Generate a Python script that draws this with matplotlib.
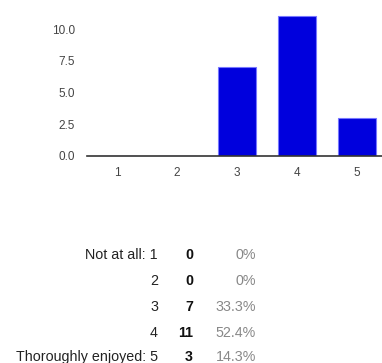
import matplotlib
matplotlib.use("Agg")
import matplotlib.pyplot as plt

categories = [1, 2, 3, 4, 5]
counts = [0, 0, 7, 11, 3]
percents = ["0%", "0%", "33.3%", "52.4%", "14.3%"]
row_labels = ["Not at all: 1", "2", "3", "4", "Thoroughly enjoyed: 5"]
yticks = [0.0, 2.5, 5.0, 7.5, 10.0]

plt.rcParams['font.family'] = ['Liberation Sans', 'DejaVu Sans']

W, H = 382, 363
fig = plt.figure(figsize=(W / 100, H / 100), dpi=100)

left = 87 / W
bottom = 1 - 156 / H
ymax = 12.0
height = ymax * 12.7 / H
ax = fig.add_axes([left, bottom, 1 - left, height])
ax.bar(categories, counts, width=0.63, color='#0000dd', edgecolor='#7777ff', linewidth=0.8)
ax.set_xlim(0.5, 0.5 + (W - 87) / 60)
ax.set_ylim(0, ymax)
for s in ['top', 'right', 'left']:
    ax.spines[s].set_visible(False)
ax.spines['bottom'].set_color('#333333')
ax.spines['bottom'].set_linewidth(1.2)
ax.set_xticks(categories)
ax.set_xticklabels([str(c) for c in categories])
ax.set_yticks(yticks)
ax.set_yticklabels([f"{v:.1f}" for v in yticks])
ax.tick_params(axis='both', length=0, labelsize=8.5, colors='#444444')
ax.tick_params(axis='y', pad=8.6)
ax.tick_params(axis='x', pad=8)

row_y = [255, 281, 307, 333, 357]
for lab, c, p, y in zip(row_labels, counts, percents, row_y):
    fy = 1 - y / H
    fig.text(158 / W, fy, lab, ha='right', va='center', fontsize=10.3, color='#222222')
    fig.text(193 / W, fy, str(c), ha='right', va='center', fontsize=10.3, color='#111111', fontweight='bold')
    fig.text(256 / W, fy, p, ha='right', va='center', fontsize=10.3, color='#888888')

fig.savefig("out.png", dpi=100)
